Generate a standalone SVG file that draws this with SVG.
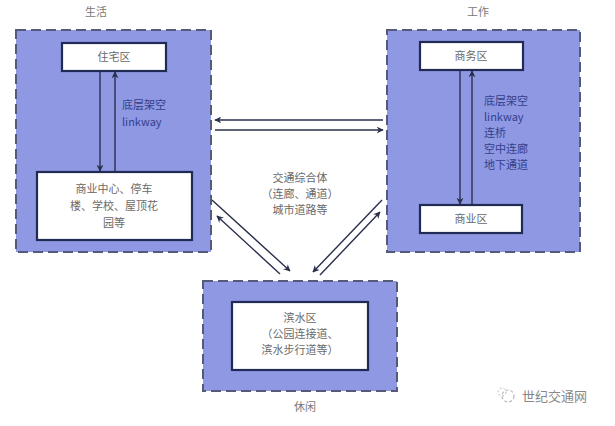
<svg xmlns="http://www.w3.org/2000/svg" width="615" height="426" viewBox="0 0 615 426">
<defs>
<marker id="ah" viewBox="0 0 10 10" refX="9" refY="5" markerWidth="7" markerHeight="7" orient="auto-start-reverse" markerUnits="userSpaceOnUse">
<path d="M0,0 L10,5 L0,10 L3,5 Z" fill="#2a2f4a"/>
</marker>
<style>
.zone{fill:#8f98e2;stroke:#555a78;stroke-width:2;stroke-dasharray:10,5}
.box{fill:#ffffff;stroke:#1f2a55;stroke-width:2.2}
.t{font-family:"Noto Sans CJK SC","Liberation Sans",sans-serif;font-size:11px;fill:#6a6a6a;text-anchor:middle}
.lbl{font-family:"Noto Sans CJK SC","Liberation Sans",sans-serif;font-size:11px;fill:#34408c}
.cap{font-family:"Noto Sans CJK SC","Liberation Sans",sans-serif;font-size:11px;fill:#777;text-anchor:middle}
.ln{stroke:#2a2f4a;stroke-width:1.4;fill:none;marker-end:url(#ah)}
</style>
</defs>
<rect width="615" height="426" fill="#ffffff"/>

<g id="zone-life">
<rect class="zone" x="16" y="30" width="195" height="222"/>
<text class="cap" x="96" y="16">生活</text>
</g>
<g id="zone-work">
<rect class="zone" x="387" y="30" width="193" height="222"/>
<text class="cap" x="478" y="16">工作</text>
</g>
<g id="zone-leisure">
<rect class="zone" x="203" y="281" width="194" height="110"/>
<text class="cap" x="305" y="411">休闲</text>
</g>

<g id="node-residential">
<rect class="box" x="62" y="43" width="104" height="28"/>
<text class="t" x="114" y="61">住宅区</text>
</g>
<g id="node-commercial-center">
<rect class="box" x="37" y="172" width="155" height="68"/>
<text class="t" x="114" y="193">商业中心、停车</text>
<text class="t" x="114" y="210">楼、学校、屋顶花</text>
<text class="t" x="114" y="227">园等</text>
</g>
<g id="node-business">
<rect class="box" x="420" y="42" width="103" height="28"/>
<text class="t" x="471" y="60">商务区</text>
</g>
<g id="node-commerce">
<rect class="box" x="420" y="205" width="102" height="28"/>
<text class="t" x="471" y="223">商业区</text>
</g>
<g id="node-waterfront">
<rect class="box" x="232" y="302" width="136" height="68"/>
<text class="t" x="300" y="322">滨水区</text>
<text class="t" x="300" y="338">（公园连接道、</text>
<text class="t" x="300" y="354">滨水步行道等）</text>
</g>

<g id="connectors">
<line class="ln" x1="100" y1="71" x2="100" y2="171"/>
<line class="ln" x1="115" y1="172" x2="115" y2="72"/>
<line class="ln" x1="460" y1="70" x2="460" y2="204"/>
<line class="ln" x1="472" y1="205" x2="472" y2="71"/>
<line class="ln" x1="383" y1="120" x2="215" y2="120"/>
<line class="ln" x1="215" y1="130" x2="383" y2="130"/>
<line class="ln" x1="212" y1="200" x2="290" y2="271"/>
<line class="ln" x1="280" y1="274" x2="217" y2="216"/>
<line class="ln" x1="382" y1="200" x2="313" y2="272"/>
<line class="ln" x1="320" y1="275" x2="380" y2="212"/>
</g>

<g id="labels">
<text class="lbl" x="122" y="109">底层架空</text>
<text class="lbl" x="122" y="126">linkway</text>
<text class="lbl" x="484" y="105">底层架空</text>
<text class="lbl" x="484" y="121">linkway</text>
<text class="lbl" x="484" y="137">连桥</text>
<text class="lbl" x="484" y="153">空中连廊</text>
<text class="lbl" x="484" y="169">地下通道</text>
<text class="t" x="300" y="182">交通综合体</text>
<text class="t" x="300" y="198">（连廊、通道）</text>
<text class="t" x="300" y="214">城市道路等</text>
</g>

<g id="watermark">
<circle cx="508" cy="396" r="6" fill="none" stroke="#bbb" stroke-width="1.2" stroke-dasharray="3,2"/>
<circle cx="502" cy="392" r="4" fill="none" stroke="#bbb" stroke-width="1" stroke-dasharray="2,2"/>
<text x="522" y="401" font-family="Noto Sans CJK SC, sans-serif" font-size="13" fill="#888">世纪交通网</text>
</g>
</svg>
